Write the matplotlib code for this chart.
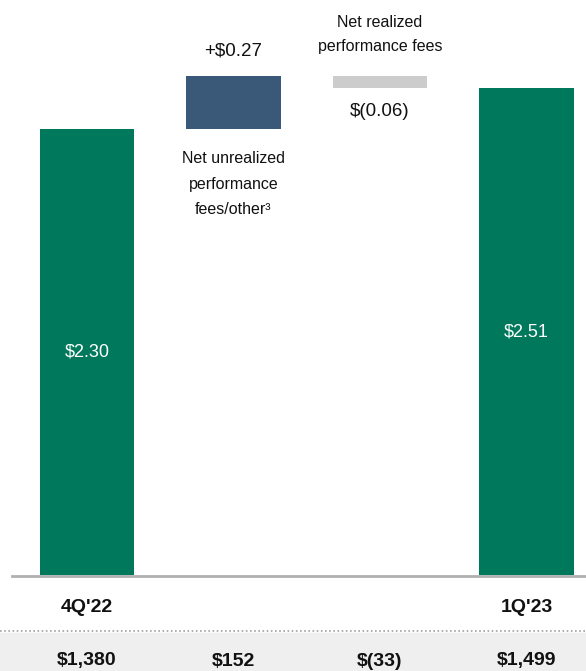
import matplotlib
matplotlib.use("Agg")
import matplotlib.pyplot as plt
from matplotlib import font_manager as fm

fams = {f.name for f in fm.fontManager.ttflist}
FONT = ['Liberation Sans Narrow', 'Liberation Sans', 'DejaVu Sans'] if 'Liberation Sans Narrow' in fams else ['Liberation Sans', 'DejaVu Sans']
plt.rcParams['font.family'] = FONT

# Data
categories = ["4Q'22", "Net unrealized\nperformance\nfees/other³", "Net realized\nperformance fees", "1Q'23"]
eps_values = [2.30, 0.27, -0.06, 2.51]
eps_labels = ["$2.30", "+$0.27", "$(0.06)", "$2.51"]
bottom_values = ["$1,380", "$152", "$(33)", "$1,499"]
kinds = ["total", "delta", "delta", "total"]

GREEN = "#00785c"
BLUE = "#3a5878"
GRAY = "#cccccc"
TXT = "#111111"

W, H = 586, 671
fig = plt.figure(figsize=(W / 100, H / 100), dpi=100)
base_px = 575
ax = fig.add_axes([0, (H - base_px) / H, 1, base_px / H])
px_per_unit = 194.0
x0_px, step_px = 87.0, 146.5
ax.set_xlim(-x0_px / step_px, (W - x0_px) / step_px)
ax.set_ylim(0, base_px / px_per_unit)
ax.axis('off')

# waterfall
running = 0.0
bottoms, heights, colors = [], [], []
for v, k in zip(eps_values, kinds):
    if k == "total":
        bottoms.append(0); heights.append(v); colors.append(GREEN); running = v
    else:
        if v >= 0:
            bottoms.append(running); heights.append(v); colors.append(BLUE)
        else:
            bottoms.append(running + v); heights.append(-v); colors.append(GRAY)
        running += v

xs = list(range(len(eps_values)))
ax.bar(xs, heights, bottom=bottoms, width=0.645, color=colors, linewidth=0)

for i, (b, h, k) in enumerate(zip(bottoms, heights, kinds)):
    if k == "total":
        ax.text(i, b + h / 2, eps_labels[i], color="white", ha="center", va="center", fontsize=13)
        ax.text(i, -33 / px_per_unit, categories[i], ha="center", va="center", fontsize=14, fontweight="bold", color=TXT)
    elif eps_values[i] >= 0:
        ax.text(i, b + h + 25 / px_per_unit, eps_labels[i], ha="center", va="center", fontsize=13.5, color=TXT)
        ax.text(i, b - 22 / px_per_unit, categories[i], ha="center", va="top", fontsize=11.5, color=TXT, linespacing=1.9)
    else:
        ax.text(i, b - 23 / px_per_unit, eps_labels[i], ha="center", va="center", fontsize=13.5, color=TXT)
        ax.text(i, b + h + 22 / px_per_unit, categories[i], ha="center", va="bottom", fontsize=11.5, color=TXT, linespacing=1.75)
    ax.text(i, -86 / px_per_unit, bottom_values[i], ha="center", va="center", fontsize=14, fontweight="bold", color=TXT)

# baseline and separator
fig.add_artist(plt.Line2D([12 / W, 1], [(H - 576) / H] * 2, color="#b0b0b0", lw=2))
fig.add_artist(plt.Line2D([0, 1], [(H - 631) / H] * 2, color="#a0a0a0", lw=1.2, ls=(0, (1, 1.5))))
fig.add_artist(plt.Rectangle((0, 0), 1, (H - 633) / H, color="#efefef", zorder=-5, transform=fig.transFigure))

fig.savefig("out.png", dpi=100)
